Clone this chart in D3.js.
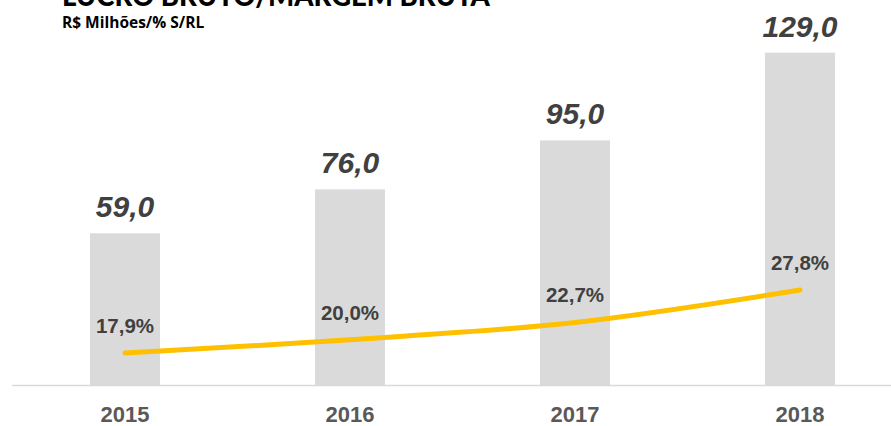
<!DOCTYPE html>
<html>
<head>
<meta charset="utf-8">
<script src="https://cdn.jsdelivr.net/npm/d3@7"></script>
<style>
  html, body { margin: 0; padding: 0; background: #ffffff; }
  svg { display: block; }
</style>
</head>
<body>
<svg id="chart" width="891" height="426"></svg>
<script>
// Gross profit (R$ millions) and gross margin (% of net revenue)
const years = ["2015", "2016", "2017", "2018"];
const grossProfit = [59.0, 76.0, 95.0, 129.0];
const grossMargin = [17.9, 20.0, 22.7, 27.8];

const fmt1 = v => d3.format(".1f")(v).replace(".", ",");

const svg = d3.select("#chart");
const W = 891, H = 426;
const baseY = 385.5;

const x = d3.scaleBand()
  .domain(years)
  .range([12.5, 912.5])
  .paddingInner(0.689)
  .paddingOuter(0.3445);

const y = d3.scaleLinear().domain([0, 140]).range([baseY, 24.3]);
const y2 = d3.scaleLinear().domain([0, 60]).range([467, 85]);

// Title and unit caption
svg.append("text")
  .attr("x", 62).attr("y", 6)
  .attr("font-family", "Lato, 'Open Sans', sans-serif")
  .attr("font-weight", 900)
  .attr("font-size", 27.5)
  .attr("fill", "#000")
  .text("LUCRO BRUTO/MARGEM BRUTA");

svg.append("text")
  .attr("x", 62).attr("y", 28)
  .attr("font-family", "'Open Sans', Lato, sans-serif")
  .attr("font-weight", 700)
  .attr("font-size", 15.5)
  .attr("fill", "#000")
  .text("R$ Milhões/% S/RL");

// Bars
svg.append("g").selectAll("rect")
  .data(grossProfit)
  .join("rect")
  .attr("x", (d, i) => x(years[i]))
  .attr("y", d => y(d))
  .attr("width", x.bandwidth())
  .attr("height", d => y(0) - y(d))
  .attr("fill", "#dadada");

// Category axis
const axis = svg.append("g")
  .attr("transform", `translate(0,${baseY})`)
  .call(d3.axisBottom(x).tickSize(0).tickSizeOuter(0).tickPadding(21));
axis.select(".domain").attr("stroke", "#d9d9d9").attr("stroke-width", 1.5)
  .attr("d", `M12,0H${W}`);
axis.selectAll("text")
  .attr("font-family", "'Liberation Sans', Arial, sans-serif")
  .attr("font-weight", 700)
  .attr("font-size", 22)
  .attr("fill", "#595959");

// Value labels above bars
svg.append("g").selectAll("text")
  .data(grossProfit)
  .join("text")
  .attr("x", (d, i) => x(years[i]) + x.bandwidth() / 2)
  .attr("y", d => y(d) - 16)
  .attr("text-anchor", "middle")
  .attr("font-family", "'Liberation Sans', Arial, sans-serif")
  .attr("font-weight", 700)
  .attr("font-style", "italic")
  .attr("font-size", 30)
  .attr("fill", "#404040")
  .text(d => fmt1(d));

// Margin line
const line = d3.line()
  .x((d, i) => x(years[i]) + x.bandwidth() / 2)
  .y(d => y2(d))
  .curve(d3.curveCatmullRom.alpha(0.5));

svg.append("path")
  .datum(grossMargin)
  .attr("d", line)
  .attr("fill", "none")
  .attr("stroke", "#ffc000")
  .attr("stroke-width", 5)
  .attr("stroke-linecap", "round");

// Margin labels
svg.append("g").selectAll("text")
  .data(grossMargin)
  .join("text")
  .attr("x", (d, i) => x(years[i]) + x.bandwidth() / 2)
  .attr("y", d => y2(d) - 20)
  .attr("text-anchor", "middle")
  .attr("font-family", "'Liberation Sans', Arial, sans-serif")
  .attr("font-weight", 700)
  .attr("font-size", 20.5)
  .attr("fill", "#404040")
  .text(d => fmt1(d) + "%");
</script>
</body>
</html>
